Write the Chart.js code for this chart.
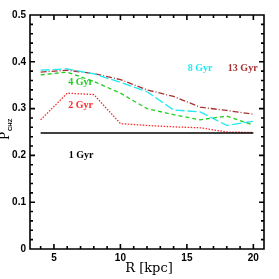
<!DOCTYPE html>
<html>
<head>
<meta charset="utf-8">
<script src="https://cdn.jsdelivr.net/npm/chart.js@4"></script>
<style>
  body { margin: 0; background: #fff; }
  #chart { display: block; }
</style>
</head>
<body>
<canvas id="chart" width="279" height="279"></canvas>
<script>
const radii = [4, 6, 8, 10, 12, 14, 16, 18, 20];
const gyr1 = [0.248, 0.248, 0.248, 0.248, 0.248, 0.248, 0.248, 0.248, 0.248];
const gyr2 = [0.276, 0.333, 0.330, 0.268, 0.264, 0.261, 0.259, 0.250, 0.249];
const gyr4 = [0.372, 0.378, 0.358, 0.333, 0.300, 0.287, 0.276, 0.284, 0.265];
const gyr8 = [0.382, 0.385, 0.374, 0.356, 0.336, 0.297, 0.293, 0.264, 0.273];
const gyr13 = [0.378, 0.382, 0.375, 0.362, 0.340, 0.326, 0.303, 0.296, 0.288];
const xTickLabels = [5, 10, 15, 20];
const yTickLabels = [0, 0.1, 0.2, 0.3, 0.4, 0.5];

// curve labels, in data units
const curveLabels = [
    { text: "1 Gyr", r: 7.05, p: 0.201, color: "#000000" },
    { text: "2 Gyr", r: 7.0, p: 0.306, color: "#ff2a2a" },
    { text: "4 Gyr", r: 7.0, p: 0.356, color: "#22cc22" },
    { text: "8 Gyr", r: 16.0, p: 0.385, color: "#22e8f0" },
    { text: "13 Gyr", r: 19.2, p: 0.385, color: "#a83232" }
];

function series(values) {
    return values.map((v, i) => ({ x: radii[i], y: v }));
}

// box around the plot, inward ticks on all sides, curve labels, axis titles
const frameTicks = {
    id: "frameTicks",
    afterDraw(chart) {
        const ctx = chart.ctx;
        const xs = chart.scales.x;
        const ys = chart.scales.y;
        const L = xs.getPixelForValue(xs.min);
        const R = xs.getPixelForValue(xs.max);
        const T = ys.getPixelForValue(ys.max);
        const B = ys.getPixelForValue(ys.min);
        ctx.save();
        ctx.strokeStyle = "#000";
        ctx.lineWidth = 1.6;
        ctx.setLineDash([]);
        ctx.beginPath();
        ctx.rect(L, T, R - L, B - T);
        for (let r = 4; r <= 20; r++) {
            const len = r % 5 === 0 ? 5 : 3;
            const px = xs.getPixelForValue(r);
            ctx.moveTo(px, B); ctx.lineTo(px, B - len);
            ctx.moveTo(px, T); ctx.lineTo(px, T + len);
        }
        for (let k = 1; k < 25; k++) {
            const len = k % 5 === 0 ? 5 : 3;
            const py = ys.getPixelForValue(k * 0.02);
            ctx.moveTo(L, py); ctx.lineTo(L + len, py);
            ctx.moveTo(R, py); ctx.lineTo(R - len, py);
        }
        ctx.stroke();

        ctx.font = "bold 10px 'Liberation Serif'";
        ctx.textAlign = "center";
        ctx.textBaseline = "middle";
        curveLabels.forEach(l => {
            ctx.fillStyle = l.color;
            ctx.fillText(l.text, xs.getPixelForValue(l.r), ys.getPixelForValue(l.p));
        });

        // x axis title
        ctx.fillStyle = "#000";
        ctx.textBaseline = "alphabetic";
        ctx.font = "13px 'DejaVu Serif'";
        ctx.fillText("R [kpc]", 149, 271.5);

        // y axis title with subscript
        ctx.translate(9, 140);
        ctx.rotate(-Math.PI / 2);
        ctx.textAlign = "left";
        ctx.font = "12px 'DejaVu Serif'";
        ctx.fillText("P", 0, 0);
        ctx.font = "bold 6px 'Liberation Sans'";
        ctx.fillText("CHZ", 9, 3);
        ctx.restore();
    }
};

new Chart(document.getElementById("chart"), {
    type: "line",
    data: {
        datasets: [
            { label: "1 Gyr", data: series(gyr1), borderColor: "#000000", borderWidth: 1.5 },
            { label: "2 Gyr", data: series(gyr2), borderColor: "#ff2a2a", borderWidth: 1.3, borderDash: [1.5, 1.5] },
            { label: "4 Gyr", data: series(gyr4), borderColor: "#22cc22", borderWidth: 1.3, borderDash: [4, 3] },
            { label: "8 Gyr", data: series(gyr8), borderColor: "#22e8f0", borderWidth: 1.3, borderDash: [9, 3] },
            { label: "13 Gyr", data: series(gyr13), borderColor: "#a83232", borderWidth: 1.3, borderDash: [6, 2, 1, 2] }
        ]
    },
    options: {
        responsive: false,
        animation: false,
        devicePixelRatio: 1,
        layout: { padding: { left: 0, right: 15, top: 15, bottom: 0 } },
        elements: { point: { radius: 0 }, line: { tension: 0, fill: false } },
        plugins: { legend: { display: false }, tooltip: { enabled: false } },
        scales: {
            x: {
                type: "linear",
                min: 3.2,
                max: 20.8,
                grid: { display: false, drawTicks: false },
                border: { display: false },
                afterBuildTicks: s => { s.ticks = xTickLabels.map(v => ({ value: v })); },
                afterFit: s => { s.height = 30; },
                ticks: {
                    color: "#000",
                    padding: 3,
                    maxRotation: 0,
                    font: { family: "'Liberation Sans'", size: 10, weight: "bold" }
                }
            },
            y: {
                min: 0,
                max: 0.5,
                grid: { display: false, drawTicks: false },
                border: { display: false },
                afterBuildTicks: s => { s.ticks = yTickLabels.map(v => ({ value: v })); },
                afterFit: s => { s.width = 30; },
                ticks: {
                    color: "#000",
                    padding: 4,
                    font: { family: "'Liberation Sans'", size: 10, weight: "bold" }
                }
            }
        }
    },
    plugins: [frameTicks]
});
</script>
</body>
</html>
